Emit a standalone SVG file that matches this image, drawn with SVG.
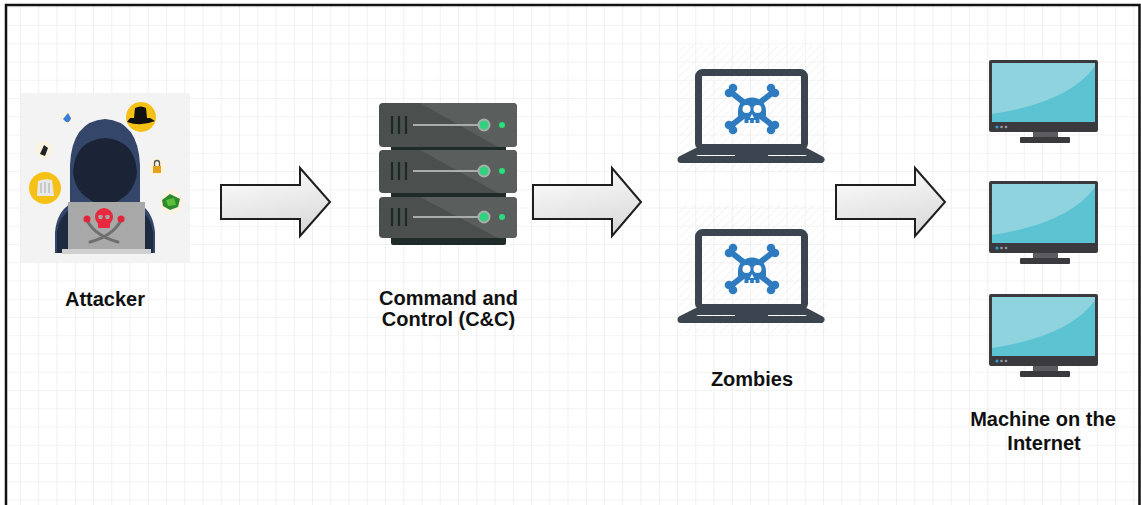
<svg xmlns="http://www.w3.org/2000/svg" width="1141" height="505" viewBox="0 0 1141 505">
  <defs>
    <pattern id="grid" patternUnits="userSpaceOnUse" x="2.75" y="7.75" width="18.25" height="18.25">
      <path d="M18.25 0V18.25M0 18.25H18.25" fill="none" stroke="#e7e7e7" stroke-width="1.2"/>
    </pattern>
    <pattern id="hatch" patternUnits="userSpaceOnUse" width="6" height="6" patternTransform="rotate(45)">
      <line x1="0" y1="0" x2="0" y2="6" stroke="#ececec" stroke-width="1.5"/>
    </pattern>
    <linearGradient id="arrowFill" x1="0" y1="0" x2="0.3" y2="1">
      <stop offset="0" stop-color="#ffffff"/>
      <stop offset="1" stop-color="#dcdcdc"/>
    </linearGradient>
    <style>
      .label { font-family: "Liberation Sans", Arial, sans-serif; font-weight: bold; font-size: 20px; fill: #111; text-anchor: middle; }
      .arrow { fill: url(#arrowFill); stroke: #1e1e1e; stroke-width: 2; stroke-linejoin: miter; }
      .unit { fill: #4b4f4e; }
      .unitHi { fill: #5a5f5d; }
      .unitBase { fill: #1f2b29; }
      .vent { stroke: #1c2a27; stroke-width: 2.2; }
      .rail { stroke: #a9aeab; stroke-width: 2; }
      .knob { fill: #2fd27f; stroke: #a9aeab; stroke-width: 2; }
      .led { fill: #27e07c; }
      .lap { fill: none; stroke: #3c4450; stroke-width: 7; stroke-linejoin: round; }
      .skull { fill: #2e7cbf; }
      .mon { fill: #3a393e; }
    </style>
    <!-- blue skull and crossbones, centred on 0,0 -->
    <g id="skullIcon">
      <g stroke="#2e7cbf" stroke-width="6" stroke-linecap="round">
        <line x1="-20" y1="-16" x2="20" y2="16"/>
        <line x1="20" y1="-16" x2="-20" y2="16"/>
      </g>
      <circle class="skull" cx="-23" cy="-16" r="4.3"/><circle class="skull" cx="-19" cy="-21" r="4.3"/>
      <circle class="skull" cx="23" cy="-16" r="4.3"/><circle class="skull" cx="19" cy="-21" r="4.3"/>
      <circle class="skull" cx="-23" cy="16" r="4.3"/><circle class="skull" cx="-19" cy="21" r="4.3"/>
      <circle class="skull" cx="23" cy="16" r="4.3"/><circle class="skull" cx="19" cy="21" r="4.3"/>
      <path class="skull" d="M-14,2 A14,13.5 0 1 1 14,2 L14,6 Q14,9 10,9 L7.5,9 L7.5,14 L-7.5,14 L-7.5,9 L-10,9 Q-14,9 -14,6 Z"/>
      <ellipse cx="-5.5" cy="0" rx="4" ry="4" fill="#fff"/>
      <ellipse cx="5.5" cy="0" rx="4" ry="4" fill="#fff"/>
      <path d="M0,5 L-2,9 L2,9 Z" fill="#fff"/>
      <rect x="-3.5" y="11" width="1.6" height="3" fill="#fff"/>
      <rect x="1.9" y="11" width="1.6" height="3" fill="#fff"/>
    </g>
    <!-- laptop outline with skull -->
    <g id="laptopIcon">
      <rect class="lap" x="698.5" y="72.5" width="106" height="75" rx="4"/>
      <path class="lap" d="M697,151.5 L806,151.5 L821,159.5 L681,159.5 Z"/>
      <rect x="735" y="152" width="33" height="5" fill="#3c4450"/>
      <use href="#skullIcon" x="752" y="109"/>
    </g>
    <!-- desktop monitor -->
    <g id="monitorIcon">
      <rect class="mon" x="989" y="60" width="109" height="72" rx="2"/>
      <rect x="992" y="63" width="103" height="59" fill="#5cc3d3"/>
      <path d="M992,63 H1095 V66 Q1070,102 992,114 Z" fill="#8fd3de"/>
      <circle cx="997" cy="127" r="1.6" fill="#2a9de0"/>
      <circle cx="1001.5" cy="127" r="1.3" fill="#9a9aa0"/>
      <circle cx="1006" cy="127" r="1.3" fill="#9a9aa0"/>
      <rect x="1033" y="132" width="25" height="6" fill="#5c5b60"/>
      <rect class="mon" x="1020" y="137" width="50" height="6" rx="1"/>
    </g>
  </defs>

  <!-- canvas -->
  <rect x="0" y="0" width="1141" height="505" fill="#ffffff"/>
  <rect x="6" y="5" width="1134" height="500" fill="url(#grid)"/>
  <path d="M6,505 V5 H1139.5 V505" fill="none" stroke="#111" stroke-width="2.5"/>

  <!-- connectors: block arrows -->
  <g id="connectors">
    <path class="arrow" d="M221,185 H300 V168 L330,202 L300,236 V219 H221 Z"/>
    <path class="arrow" d="M533,185 H612 V168 L641,202 L612,236 V219 H533 Z"/>
    <path class="arrow" d="M836,185 H915 V168 L945,202 L915,236 V219 H836 Z"/>
  </g>

  <!-- attacker -->
  <g id="attacker">
    <rect x="21" y="93" width="169" height="170" fill="#f3f3f3"/>
    <!-- hood and shoulders -->
    <path d="M55,253 L55,232 Q57,212 70,204 L70,165 Q72,121 105,119 Q138,121 140,165 L140,204 Q153,212 155,232 L155,253 Z" fill="#34466a"/>
    <path d="M57,253 L57,232 Q59,216 73,207 L137,207 Q151,216 153,232 L153,253 Z" fill="#1d2a40"/>
    <!-- face shadow -->
    <path d="M73,172 Q75,140 105,138 Q135,140 137,172 Q135,198 105,206 Q75,198 73,172 Z" fill="#1a2436"/>
    <!-- laptop -->
    <rect x="68" y="202" width="77" height="48" fill="#a8a8a8"/>
    <rect x="62" y="249" width="89" height="5" fill="#d0d0d0"/>
    <!-- crossed swords -->
    <g stroke="#6f6f6f" stroke-width="3" stroke-linecap="round">
      <path d="M88,222 Q96,236 118,242" fill="none"/>
      <path d="M120,222 Q112,236 90,242" fill="none"/>
    </g>
    <circle cx="87" cy="219" r="3.5" fill="#e3243a"/>
    <circle cx="121" cy="219" r="3.5" fill="#e3243a"/>
    <!-- red skull -->
    <circle cx="104" cy="217" r="9" fill="#e8283c"/>
    <rect x="98" y="220" width="12" height="8" rx="1" fill="#e8283c"/>
    <circle cx="100.5" cy="217" r="2.3" fill="#a8a8a8"/>
    <circle cx="107.5" cy="217" r="2.3" fill="#a8a8a8"/>
    <!-- floating icons -->
    <circle cx="141" cy="117" r="15" fill="#f6c117"/>
    <path d="M127,122 Q141,127 155,121 L150,118 L147,118 L146,108 Q141,105 135,108 L134,118 L130,118 Z" fill="#111"/>
    <circle cx="45" cy="188" r="16" fill="#f6c117"/>
    <path d="M37,196 L38,181 Q45,178 52,180 L54,196 Z" fill="#e8e8e8"/>
    <path d="M41,183 V193 M45,182 V193 M49,183 V193" stroke="#b5b5b5" stroke-width="1.2"/>
    <circle cx="44" cy="150" r="9" fill="#fbf3e2"/>
    <path d="M40,154 L44,145 L48,148 L45,156 Z" fill="#222"/>
    <circle cx="157" cy="167" r="9" fill="#fbf3e2"/>
    <rect x="153" y="166" width="8" height="7" fill="#e2a31a"/>
    <path d="M154.5,166 V163 A2.5,2.5 0 0 1 159.5,163 V166" fill="none" stroke="#555" stroke-width="1.3"/>
    <circle cx="171" cy="202" r="12" fill="#fbf3e2"/>
    <path d="M162,200 L170,194 L180,199 L178,207 L170,210 L163,206 Z" fill="#2d8a2a"/>
    <path d="M166,200 L174,198 L176,205 L168,206 Z" fill="#5cbf3a"/>
    <circle cx="67" cy="118" r="6" fill="#fbf3e2"/>
    <path d="M63,119 L68,113 L71,118 Q70,123 66,122 Z" fill="#3b7dd8"/>
    <text class="label" x="105" y="306">Attacker</text>
  </g>

  <!-- command and control server -->
  <g id="cnc">
    <rect class="unitBase" x="391" y="144" width="115" height="9"/>
    <rect class="unitBase" x="391" y="190" width="115" height="9"/>
    <rect class="unitBase" x="391" y="234" width="115" height="11" rx="2"/>
    <g id="unit1">
      <rect class="unit" x="379" y="103" width="138" height="44" rx="4"/>
      <path class="unitHi" d="M420,103 H513 Q517,103 517,107 V143 Q517,147 513,147 H498 Z"/>
      <line class="vent" x1="392" y1="116" x2="392" y2="134"/>
      <line class="vent" x1="399" y1="116" x2="399" y2="134"/>
      <line class="vent" x1="406" y1="116" x2="406" y2="134"/>
      <line class="rail" x1="413" y1="125" x2="479" y2="125"/>
      <circle class="knob" cx="484" cy="125" r="5.5"/>
      <circle class="led" cx="502" cy="125" r="3"/>
    </g>
    <g id="unit2">
      <rect class="unit" x="379" y="150" width="138" height="43" rx="4"/>
      <path class="unitHi" d="M420,150 H513 Q517,150 517,154 V189 Q517,193 513,193 H498 Z"/>
      <line class="vent" x1="392" y1="162" x2="392" y2="180"/>
      <line class="vent" x1="399" y1="162" x2="399" y2="180"/>
      <line class="vent" x1="406" y1="162" x2="406" y2="180"/>
      <line class="rail" x1="413" y1="171" x2="479" y2="171"/>
      <circle class="knob" cx="484" cy="171" r="5.5"/>
      <circle class="led" cx="502" cy="171" r="3"/>
    </g>
    <g id="unit3">
      <rect class="unit" x="379" y="197" width="138" height="41" rx="4"/>
      <path class="unitHi" d="M420,197 H513 Q517,197 517,201 V234 Q517,238 513,238 H498 Z"/>
      <line class="vent" x1="392" y1="208" x2="392" y2="226"/>
      <line class="vent" x1="399" y1="208" x2="399" y2="226"/>
      <line class="vent" x1="406" y1="208" x2="406" y2="226"/>
      <line class="rail" x1="413" y1="217" x2="479" y2="217"/>
      <circle class="knob" cx="484" cy="217" r="5.5"/>
      <circle class="led" cx="502" cy="217" r="3"/>
    </g>
    <text class="label" x="448.5" y="305">Command and</text>
    <text class="label" x="448.5" y="326">Control (C&amp;C)</text>
  </g>

  <!-- zombie laptops -->
  <g id="zombies">
    <rect x="679" y="45" width="147" height="128" fill="url(#hatch)" opacity="0.8"/>
    <rect x="679" y="205" width="147" height="128" fill="url(#hatch)" opacity="0.8"/>
    <use href="#laptopIcon"/>
    <use href="#laptopIcon" y="160"/>
    <text class="label" x="752" y="386">Zombies</text>
  </g>

  <!-- internet machines -->
  <g id="machines">
    <use href="#monitorIcon"/>
    <use href="#monitorIcon" y="121"/>
    <use href="#monitorIcon" y="234"/>
    <text class="label" x="1043" y="426">Machine on the</text>
    <text class="label" x="1044" y="450">Internet</text>
  </g>
</svg>
